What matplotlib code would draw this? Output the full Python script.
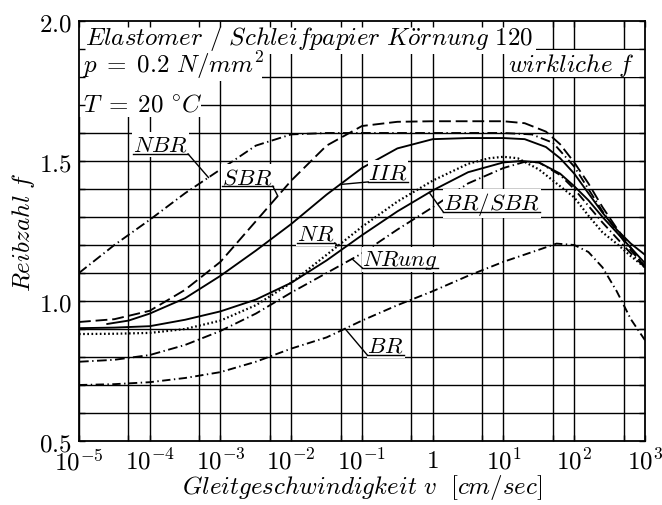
import numpy as np
import matplotlib
matplotlib.use('Agg')
import matplotlib.pyplot as plt
from matplotlib.patches import Rectangle
from matplotlib.ticker import FixedLocator, NullFormatter

plt.rcParams['mathtext.fontset'] = 'cm'
plt.rcParams['axes.unicode_minus'] = False
plt.rcParams['lines.scale_dashes'] = False

# ---------------------------------------------------------------------------
# friction coefficient f over log10 of slip speed v [cm/sec]
# ---------------------------------------------------------------------------
nbr_logv = [-5.0, -4.5, -4.0, -3.5, -3.0, -2.5, -2.0, -1.5, -1.0, 0.0, 1.0, 1.4, 1.7, 2.0, 2.2, 2.4, 2.6, 2.8, 3.0]
nbr_f = [1.10, 1.20, 1.29, 1.385, 1.47, 1.555, 1.595, 1.60, 1.60, 1.60, 1.60, 1.595, 1.565, 1.48, 1.40, 1.32, 1.25, 1.18, 1.125]

sbr_logv = [-5.0, -4.5, -4.0, -3.5, -3.0, -2.5, -2.0, -1.5, -1.0, -0.5, 0.0, 1.0, 1.3, 1.6, 1.8, 2.0, 2.2, 2.4, 2.6, 2.8, 3.0]
sbr_f = [0.925, 0.935, 0.965, 1.04, 1.14, 1.285, 1.43, 1.555, 1.625, 1.64, 1.642, 1.642, 1.635, 1.605, 1.56, 1.495, 1.42, 1.335, 1.26, 1.19, 1.12]

iir_logv = [-4.6, -4.3, -4.0, -3.5, -3.0, -2.5, -2.0, -1.5, -1.0, -0.5, 0.0, 0.5, 1.0, 1.3, 1.6, 1.8, 2.0, 2.2, 2.4, 2.6, 2.8, 3.0]
iir_f = [0.918, 0.93, 0.955, 1.01, 1.09, 1.18, 1.275, 1.38, 1.475, 1.545, 1.578, 1.582, 1.582, 1.578, 1.55, 1.51, 1.455, 1.385, 1.315, 1.255, 1.205, 1.165]

brsbr_logv = [-5.0, -4.5, -4.0, -3.5, -3.0, -2.5, -2.0, -1.5, -1.0, -0.5, 0.0, 0.5, 1.0, 1.25, 1.5, 1.8, 2.0, 2.2, 2.4, 2.6, 2.8, 3.0]
brsbr_f = [0.903, 0.905, 0.91, 0.933, 0.963, 1.005, 1.065, 1.145, 1.235, 1.32, 1.395, 1.46, 1.495, 1.50, 1.495, 1.455, 1.41, 1.36, 1.30, 1.245, 1.19, 1.135]

nr_logv = [-5.0, -4.5, -4.0, -3.5, -3.0, -2.5, -2.0, -1.5, -1.0, -0.5, 0.0, 0.5, 0.8, 1.0, 1.2, 1.5, 1.8, 2.0, 2.2, 2.4, 2.6, 2.8, 3.0]
nr_f = [0.882, 0.883, 0.886, 0.90, 0.93, 0.985, 1.065, 1.165, 1.265, 1.355, 1.43, 1.49, 1.51, 1.515, 1.51, 1.47, 1.41, 1.37, 1.305, 1.245, 1.205, 1.16, 1.12]

nrung_logv = [-5.0, -4.5, -4.0, -3.5, -3.0, -2.5, -2.0, -1.5, -1.0, -0.5, 0.0, 0.5, 1.0, 1.3, 1.5, 1.8, 2.0, 2.2, 2.4, 2.6, 2.8, 3.0]
nrung_f = [0.783, 0.79, 0.807, 0.843, 0.893, 0.955, 1.03, 1.10, 1.17, 1.255, 1.335, 1.42, 1.475, 1.497, 1.495, 1.45, 1.40, 1.34, 1.28, 1.225, 1.17, 1.12]

br_logv = [-5.0, -4.5, -4.0, -3.5, -3.0, -2.5, -2.0, -1.5, -1.0, -0.5, 0.0, 0.5, 1.0, 1.5, 1.75, 2.0, 2.2, 2.4, 2.6, 2.8, 3.0]
br_f = [0.70, 0.703, 0.71, 0.725, 0.746, 0.783, 0.83, 0.87, 0.93, 0.985, 1.035, 1.09, 1.14, 1.183, 1.205, 1.20, 1.175, 1.12, 1.035, 0.935, 0.86]

# name -> (log v, f, dash pattern in points, line width)
curves = {
    'NBR': (nbr_logv, nbr_f, (7, 2.5, 1, 2.5), 1.35),
    'SBR': (sbr_logv, sbr_f, (8.5, 3.5), 1.35),
    'IIR': (iir_logv, iir_f, None, 1.35),
    'BR/SBR': (brsbr_logv, brsbr_f, None, 1.35),
    'NR': (nr_logv, nr_f, (1.2, 1.8), 1.6),
    'NRung': (nrung_logv, nrung_f, (7, 2.5, 1, 2.5), 1.35),
    'BR': (br_logv, br_f, (6, 2.5, 1, 2.5), 1.35),
}

# curve labels: text, left edge (log v), baseline f, leader side, target log v
label_names = ['NBR', 'SBR', 'IIR', 'NR', 'NRung', 'BR/SBR', 'BR']
label_logv = [-4.236, -2.977, -0.912, -1.917, -0.997, 0.148, -0.926]
label_f = [1.536, 1.421, 1.436, 1.218, 1.129, 1.329, 0.818]
label_side = ['right', 'right', 'left', 'right', 'left', 'left', 'left']
label_target = [-3.17, -2.19, -1.31, -1.34, -1.14, -0.05, -1.24]

xtick_exp = list(range(-5, 4))
xtick_labels = ['$10^{-5}$', '$10^{-4}$', '$10^{-3}$', '$10^{-2}$', '$10^{-1}$', '$1$', '$10^{1}$', '$10^{2}$', '$10^{3}$']
ytick_vals = [0.5, 1.0, 1.5, 2.0]
ytick_labels = ['$0.5$', '$1.0$', '$1.5$', '$2.0$']

FS = 18
FS_LABEL = 16.5
FS_TICK = 18

fig = plt.figure(figsize=(6.62, 5.06), dpi=100)
ax = fig.add_axes([0.1193, 0.1265, 0.855, 0.830])
ax.set_xscale('log')
ax.set_xlim(1e-5, 1e3)
ax.set_ylim(0.5, 2.0)
ax.set_axisbelow(False)

### grid (1 and 5 per decade, every 0.1 in f) --------------------------------
for k in range(-5, 3):
    ax.axvline(10.0 ** k, color='k', lw=1.0, zorder=1)
    ax.axvline(5 * 10.0 ** k, color='k', lw=1.0, zorder=1)
for y in np.arange(0.6, 1.95, 0.1):
    ax.axhline(y, color='k', lw=1.0, zorder=1)

### curves ------------------------------------------------------------------
for name, (lv, fv, dash, lw) in curves.items():
    kw = dict(color='k', lw=lw, zorder=1.5)
    if dash is not None:
        kw['dashes'] = dash
    ax.plot(10.0 ** np.array(lv), fv, **kw)

### white boxes for the header texts -----------------------------------------
boxes = [(0.0, 0.921, 0.807, 0.079), (0.0, 0.857, 0.323, 0.064),
         (0.0, 0.771, 0.2155, 0.086), (0.753, 0.867, 0.247, 0.064)]
for x0, y0, w, h in boxes:
    ax.add_patch(Rectangle((x0, y0), w, h, transform=ax.transAxes,
                           facecolor='white', edgecolor='none', zorder=2))

ax.text(0.0106, 0.945, r'$Elastomer\ /\ Schleifpapier\ K\ddot{o}rnung\ 120$',
        transform=ax.transAxes, fontsize=FS, va='baseline', zorder=3)
ax.text(0.0075, 0.8786, r'$p\;=\;0.2\ N/mm^2$', transform=ax.transAxes,
        fontsize=FS, va='baseline', zorder=3)
ax.text(0.0075, 0.788, r'$T\;=\;20\ ^{\circ}C$', transform=ax.transAxes,
        fontsize=FS, va='baseline', zorder=3)
ax.text(0.758, 0.8817, r'$wirkliche\ f$', transform=ax.transAxes,
        fontsize=FS, va='baseline', zorder=3)

### curve labels with underline and leader ---------------------------------
texts = []
for name, lx, fy in zip(label_names, label_logv, label_f):
    t = ax.text(10.0 ** lx, fy, '$' + name + '$', fontsize=FS_LABEL, va='baseline', ha='left',
                zorder=3, bbox=dict(facecolor='white', edgecolor='none', pad=0.5))
    texts.append(t)

fig.canvas.draw()
inv = ax.transData.inverted()
for t, name, lx, fy, side, tgt in zip(texts, label_names, label_logv, label_f, label_side, label_target):
    ext = t.get_window_extent()
    base = ax.transData.transform((10.0 ** lx, fy))
    uy = base[1] - 3
    left = inv.transform((ext.x0, uy))
    right = inv.transform((ext.x1, uy))
    lv, fv = curves[name][0], curves[name][1]
    ty = np.interp(tgt, lv, fv)
    ax.plot([left[0], right[0]], [left[1], right[1]], color='k', lw=1.0, zorder=3.1)
    end = right if side == 'right' else left
    ax.plot([end[0], 10.0 ** tgt], [end[1], ty], color='k', lw=1.0, zorder=3.1)

### axes, ticks, labels ------------------------------------------------------
ax.xaxis.set_major_locator(FixedLocator([10.0 ** e for e in xtick_exp]))
ax.xaxis.set_minor_locator(FixedLocator([5 * 10.0 ** e for e in range(-5, 3)]))
ax.xaxis.set_minor_formatter(NullFormatter())
ax.set_xticklabels(xtick_labels)
ax.yaxis.set_major_locator(FixedLocator(ytick_vals))
ax.yaxis.set_minor_locator(FixedLocator(list(np.arange(0.6, 1.95, 0.1))))
ax.set_yticklabels(ytick_labels)
ax.tick_params(which='both', direction='in', top=True, right=True, length=4, width=1.0,
               labelsize=FS_TICK)
ax.tick_params(axis='x', pad=5)
ax.tick_params(axis='y', pad=5)
for s in ax.spines.values():
    s.set_linewidth(1.3)

ax.set_xlabel(r'$Gleitgeschwindigkeit\ v\ \ [cm/sec]$', fontsize=FS)
ax.xaxis.set_label_coords(0.5, -0.075)
ax.set_ylabel(r'$Reibzahl\ f$', fontsize=FS)
ax.yaxis.set_label_coords(-0.075, 0.5)

plt.savefig('out.png', dpi=100)
